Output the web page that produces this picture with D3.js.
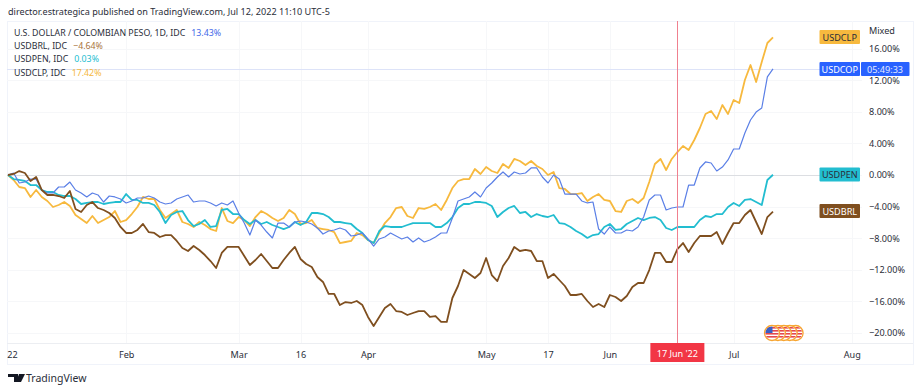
<!DOCTYPE html>
<html>
<head>
<meta charset="utf-8">
<script src="https://cdn.jsdelivr.net/npm/d3@7"></script>
<style>
  html, body { margin: 0; padding: 0; background: #fff; }
  text { font-family: "Noto Sans", sans-serif; font-size: 9.1px; fill: #2a2e39; }
</style>
</head>
<body>
<div id="chart"></div>
<script>
// % change since the first session, one value per trading day from 3 Jan 2022
var usdcop = [
  0,.25,-1.01,-.89,-.51,-.51,-1.9,-2.28,-2.28,-1.52,
  -1.52,-.89,-1.9,-2.28,-2.78,-2.28,-2.53,-3.42,-2.66,-2.78,
  -3.04,-3.54,-3.29,-2.91,-2.91,-2.66,-2.91,-3.42,-3.67,-3.54,
  -3.04,-2.78,-2.53,-3.42,-3.29,-3.29,-3.54,-3.92,-3.54,-3.8,
  -3.29,-4.81,-6.08,-7.6,-5.7,-6.33,-7.22,-7.97,-6.08,-6.08,
  -6.58,-5.95,-5.82,-5.95,-6.2,-6.71,-7.47,-7.09,-6.96,-6.71,
  -6.96,-7.72,-7.6,-7.34,-8.1,-8.99,-8.1,-7.85,-7.34,-7.72,
  -8.1,-7.85,-8.48,-7.97,-8.48,-8.23,-7.85,-7.34,-7.34,-5.44,
  -3.29,-3.04,-2.78,-2.15,-2.78,-1.65,-1.01,-.25,.38,-.25,
  .38,.13,.25,.89,.89,-.25,-1.01,0,-.51,-2.41,
  -2.41,-2.41,-3.29,-3.54,-3.42,-6.84,-7.47,-6.58,-7.34,-7.34,
  -6.96,-7.09,-6.58,-5.32,-3.16,-2.53,-2.53,-4.43,-4.18,-4.05,
  -4.05,-1.27,-1.27,.89,1.65,1.52,.51,1.01,1.9,3.29,
  3.29,5.32,6.96,7.97,8.48,12.41,13.43
];
var usdbrl = [
  0,.13,.5,.25,-.76,-.25,-1.9,-2.53,-2.53,-2.66,
  -2.91,-2.03,-4.3,-4.68,-3.8,-3.42,-4.18,-4.43,-4.81,-5.44,
  -6.58,-7.34,-7.34,-6.96,-6.2,-7.22,-7.34,-7.85,-7.6,-7.6,
  -8.35,-9.24,-9.62,-8.99,-9.49,-10.13,-10.89,-11.77,-9.87,-9.11,
  -9.11,-9.11,-10.25,-11.39,-10.76,-10,-10.89,-11.77,-11.77,-10.76,
  -9.87,-9.11,-10.63,-11.27,-11.65,-12.91,-13.54,-15.06,-15.06,-16.46,
  -16.08,-16.2,-15.95,-16.46,-17.97,-19.11,-17.97,-16.84,-16.33,-17.22,
  -17.34,-17.72,-17.47,-17.22,-17.22,-17.97,-17.85,-18.6,-18.6,-15.57,
  -14.05,-12.03,-12.53,-13.04,-12.41,-10.51,-12.66,-13.42,-11.52,-10.51,
  -9.11,-9.62,-9.49,-9.62,-10.89,-10.89,-13.04,-12.53,-13.29,-14.05,
  -15.19,-15.19,-15.06,-15.95,-16.71,-16.33,-16.71,-15.19,-15.44,-15.95,
  -15.32,-14.18,-13.67,-13.67,-12.03,-9.87,-9.87,-11.01,-11.01,-9.37,
  -8.61,-9.75,-8.61,-7.72,-7.72,-7.72,-7.22,-8.73,-7.34,-6.08,
  -6.08,-5.06,-4.43,-5.95,-7.47,-5.32,-4.64
];
var usdpen = [
  0,-.51,-.63,-.76,-1.27,-1.27,-1.9,-2.15,-2.15,-2.53,
  -2.66,-2.66,-3.04,-3.67,-3.54,-3.42,-3.42,-3.67,-3.54,-3.42,
  -3.42,-2.41,-3.16,-3.16,-3.54,-3.54,-3.8,-4.68,-6.08,-5.06,
  -4.68,-4.56,-5.7,-6.46,-6.2,-5.7,-6.58,-6.46,-4.43,-4.3,
  -4.94,-4.94,-5.7,-6.2,-5.7,-6.2,-5.95,-6.33,-6.58,-6.84,
  -6.58,-5.95,-6.33,-5.95,-4.81,-4.81,-4.94,-5.32,-5.95,-5.95,
  -6.08,-6.2,-6.84,-7.34,-8.23,-8.61,-7.09,-6.46,-6.58,-6.58,
  -6.58,-6.33,-6.08,-6.08,-6.08,-6.08,-6.58,-6.58,-6.08,-5.32,
  -4.18,-3.67,-3.67,-3.42,-3.42,-3.54,-3.92,-5.32,-4.68,-4.18,
  -3.92,-4.81,-4.68,-5.32,-4.94,-5.19,-5.32,-5.06,-6.08,-6.2,
  -6.58,-7.09,-7.47,-7.97,-7.6,-7.47,-6.58,-6.2,-6.96,-6.84,
  -6.2,-5.82,-5.44,-5.7,-5.44,-5.32,-5.7,-6.71,-6.96,-6.58,
  -6.58,-6.58,-6.58,-5.7,-5.19,-5.32,-4.94,-4.94,-4.05,-3.54,
  -3.92,-3.16,-3.04,-3.42,-3.8,-.63,.03
];
var usdclp = [
  0,-.63,-1.52,-1.65,-2.78,-1.9,-2.78,-3.29,-4.05,-3.8,
  -3.42,-3.92,-5.06,-5.57,-6.08,-5.19,-6.08,-5.7,-5.32,-4.56,
  -5.95,-5.7,-4.94,-4.05,-2.78,-3.04,-3.04,-4.43,-5.44,-4.94,
  -4.43,-5.95,-6.2,-6.58,-5.95,-6.33,-6.84,-7.09,-4.18,-5.82,
  -6.08,-5.32,-5.7,-6.46,-5.32,-4.56,-4.94,-5.44,-5.82,-5.44,
  -4.43,-4.94,-6.2,-6.08,-5.7,-6.71,-6.84,-6.96,-7.22,-8.61,
  -8.48,-8.35,-7.34,-7.6,-8.23,-8.61,-7.34,-6.08,-5.32,-4.18,
  -4.05,-5.19,-5.44,-4.18,-4.3,-4.05,-3.67,-4.43,-3.16,-1.65,
  -.76,-.51,-.51,.76,.13,1.01,.51,.25,1.39,.89,
  2.03,1.77,1.27,1.77,1.14,.76,0,.38,-1.65,-1.77,
  -2.41,-2.41,-2.28,-3.29,-2.78,-2.41,-3.16,-3.29,-4.56,-4.68,
  -3.29,-3.04,-3.54,-2.91,-.89,1.39,2.03,.63,2.03,2.91,
  3.67,3.16,4.43,5.95,7.72,8.1,7.09,8.86,7.72,9.49,
  9.11,12.03,13.92,11.77,14.3,16.71,17.42
];

var priceTicks = [16, 12, 8, 4, 0, -4, -8, -12, -16, -20];
var timeTicks = [0, 21, 41, 52, 64, 85, 96, 107, 129, 150]; // trading day number
var timeLabels = ["22", "Feb", "Mar", "16", "Apr", "May", "17", "Jun", "Jul", "Aug"];
var crosshairDay = 119;
var crosshairLabel = "17 Jun '22";

var svgWidth = 921;
var svgHeight = 392;

var blue = "#2962ff";
var brown = "#7f4f1f";
var cyan = "#22bdd0";
var orange = "#f7b93e";

var svg = d3.select("#chart")
  .append("svg")
  .attr("width", svgWidth)
  .attr("height", svgHeight)
  .style("display", "block");

var paneLeft = 7, paneRight = 913, paneTop = 21, paneBottom = 343, frameBottom = 364;

// scales: 5.625px per session, 7.9px per percent
var xScale = d3.scaleLinear().domain([0, 136]).range([8, 773]);
var yScale = d3.scaleLinear().domain([-20, 16]).range([333, 48.6]);

// frame
svg.append("rect")
  .attr("x", paneLeft + .5).attr("y", paneTop + .5)
  .attr("width", paneRight - paneLeft).attr("height", frameBottom - paneTop)
  .attr("fill", "none").attr("stroke", "#f0f3fa");
svg.append("line")
  .attr("x1", paneLeft).attr("x2", paneRight)
  .attr("y1", paneBottom + .5).attr("y2", paneBottom + .5)
  .attr("stroke", "#eceef2");

// grid
svg.append("g").selectAll("line").data(priceTicks).enter().append("line")
  .attr("x1", paneLeft).attr("x2", 862)
  .attr("y1", d => Math.round(yScale(d)) + .5).attr("y2", d => Math.round(yScale(d)) + .5)
  .attr("stroke", "#f6f7f9");
svg.append("g").selectAll("line").data(timeTicks.slice(1)).enter().append("line")
  .attr("x1", d => Math.round(xScale(d)) + .5).attr("x2", d => Math.round(xScale(d)) + .5)
  .attr("y1", paneTop).attr("y2", paneBottom)
  .attr("stroke", "#f6f7f9");

// baseline and last price line
svg.append("line")
  .attr("x1", paneLeft).attr("x2", 820)
  .attr("y1", Math.round(yScale(0)) + .5).attr("y2", Math.round(yScale(0)) + .5)
  .attr("stroke", "#dcdee2").attr("stroke-width", 1.2);
svg.append("line")
  .attr("x1", paneLeft).attr("x2", 820)
  .attr("y1", Math.round(yScale(usdcop[136])) + .5).attr("y2", Math.round(yScale(usdcop[136])) + .5)
  .attr("stroke", "#dde3f8");

// series
var line = d3.line()
  .x((d, i) => xScale(i))
  .y(d => yScale(d));

var seriesList = [
  { values: usdclp, color: orange, width: 1.8 },
  { values: usdpen, color: cyan, width: 1.8 },
  { values: usdcop, color: "#5a7fe6", width: 1.2 },
  { values: usdbrl, color: brown, width: 1.8 }
];
svg.append("g").selectAll("path").data(seriesList).enter().append("path")
  .attr("d", d => line(d.values))
  .attr("fill", "none")
  .attr("stroke", d => d.color)
  .attr("stroke-width", d => d.width)
  .attr("stroke-linejoin", "round");

// crosshair
svg.append("line")
  .attr("x1", Math.round(xScale(crosshairDay)) + .5).attr("x2", Math.round(xScale(crosshairDay)) + .5)
  .attr("y1", paneTop).attr("y2", paneBottom)
  .attr("stroke", "#f0808f");

// right price axis
var priceAxis = svg.append("g")
  .attr("transform", "translate(860,0)")
  .call(d3.axisRight(yScale)
    .tickValues(priceTicks)
    .tickSize(0)
    .tickPadding(9)
    .tickFormat(d => (d < 0 ? "\u2212" + Math.abs(d) : d) + ".00%"));
priceAxis.select(".domain").remove();

svg.append("text").attr("x", 869).attr("y", 34).text("Mixed");

// bottom time axis
var timeAxis = svg.append("g")
  .attr("transform", `translate(0,${paneBottom})`)
  .call(d3.axisBottom(xScale)
    .tickValues(timeTicks)
    .tickSize(0)
    .tickPadding(9)
    .tickFormat((d, i) => timeLabels[i]));
timeAxis.select(".domain").remove();
timeAxis.selectAll(".tick").filter(d => d === 0).select("text").attr("dx", 4);

// axis tags
var tags = [
  { label: "USDCLP", value: usdclp[136], color: orange, textColor: "#2a2e39", y: 37 },
  { label: "USDPEN", value: usdpen[136], color: cyan, textColor: "#2a2e39", y: 174.5 },
  { label: "USDBRL", value: usdbrl[136], color: brown, textColor: "#fff", y: 211 },
  { label: "USDCOP", value: usdcop[136], color: blue, textColor: "#fff", y: 69 }
];
var tagGroup = svg.append("g").selectAll("g").data(tags).enter().append("g")
  .attr("transform", d => `translate(819.5,${d.y})`);
tagGroup.append("rect")
  .attr("y", -7).attr("width", 40.5).attr("height", 14).attr("rx", 1)
  .attr("fill", d => d.color);
tagGroup.append("text")
  .attr("x", 20.25).attr("y", 3.5)
  .attr("text-anchor", "middle")
  .style("fill", d => d.textColor)
  .text(d => d.label);

svg.append("rect")
  .attr("x", 861).attr("y", 62).attr("width", 48.5).attr("height", 14).attr("rx", 1)
  .attr("fill", blue);
svg.append("text")
  .attr("x", 885).attr("y", 72.5).attr("text-anchor", "middle")
  .style("fill", "#e3eaff")
  .text("05:49:33");

// crosshair date label
svg.append("rect")
  .attr("x", xScale(crosshairDay) - 27).attr("y", paneBottom)
  .attr("width", 54).attr("height", 19)
  .attr("fill", "#f23645");
svg.append("text")
  .attr("x", xScale(crosshairDay)).attr("y", 357)
  .attr("text-anchor", "middle")
  .style("fill", "#fff")
  .text(crosshairLabel);

// header
svg.append("text").attr("x", 8).attr("y", 15).text("director.estrategica published on TradingView.com, Jul 12, 2022 11:10 UTC-5");

var legendRows = [
  { name: "U.S. DOLLAR / COLOMBIAN PESO, 1D, IDC", value: "13.43%", color: "#3f68e8" },
  { name: "USDBRL, IDC", value: "\u22124.64%", color: "#a8733b" },
  { name: "USDPEN, IDC", value: "0.03%", color: "#22bdd0" },
  { name: "USDCLP, IDC", value: "17.42%", color: "#f5b73c" }
];
var legend = svg.append("g").selectAll("text").data(legendRows).enter().append("text")
  .attr("x", 14)
  .attr("y", (d, i) => 36 + i * 13.2)
  .style("font-size", "8.8px");
legend.append("tspan").text(d => d.name);
legend.append("tspan").attr("dx", 6).style("fill", d => d.color).text(d => d.value);

// flag badges for the pending events
var flagOffsets = [0, 1, 2, 3, 4];
var defs = svg.append("defs");
defs.append("clipPath").attr("id", "flagClip").append("circle").attr("r", 6.6);
var flags = svg.append("g").attr("transform", "translate(772,333)");
var flag = flags.selectAll("g").data(flagOffsets.slice().reverse()).enter().append("g")
  .attr("transform", d => `translate(${d * 5.9},0)`);
flag.append("circle").attr("r", 7.5).attr("fill", "#fff").attr("stroke", "#f7a531").attr("stroke-width", 1.3);
var stripes = flag.append("g").attr("clip-path", "url(#flagClip)");
stripes.selectAll("rect").data([-6, -3, 0, 3]).enter().append("rect")
  .attr("x", -8).attr("y", d => d).attr("width", 16).attr("height", 1.6).attr("fill", "#e5484d");
flags.append("g").attr("clip-path", "url(#flagClip)")
  .append("rect").attr("x", -8).attr("y", -8).attr("width", 8.5).attr("height", 8).attr("fill", "#3b5fc4");

// TradingView logo
svg.append("path")
  .attr("d", "M8 374h10v8h-4v-5h-6zM19 374h6l-4 8h-5z")
  .attr("fill", "#131722");
svg.append("text").attr("x", 26).attr("y", 382).style("font-size", "10.5px").text("TradingView");
</script>
</body>
</html>
